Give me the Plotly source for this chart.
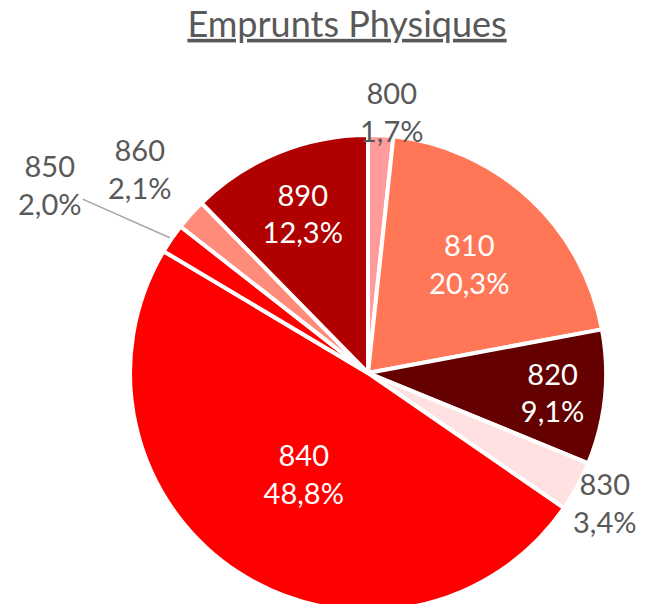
import math
import plotly.graph_objects as go

# Emprunts physiques par classe Dewey (%)
labels = ["800", "810", "820", "830", "840", "850", "860", "890"]
values = [1.7, 20.3, 9.1, 3.4, 48.8, 2.0, 2.1, 12.3]
colors = ["#FF9B9B", "#FF7756", "#640000", "#FFE1E1",
          "#FF0000", "#FF0000", "#FF8B7B", "#B00000"]
inside = [False, True, True, False, True, False, False, True]

W, H = 646, 604
# the page body adds an 8px margin, so the figure is laid out shifted by that
DOM_X = [0.1889, 0.9257]
DOM_Y = [0.0017, 0.7897]
LABEL_FONT = 29

fig = go.Figure(go.Pie(
    labels=labels,
    values=values,
    sort=False,
    direction="clockwise",
    rotation=0,
    marker=dict(colors=colors, line=dict(color="white", width=4)),
    textposition=["inside" if i else "none" for i in inside],
    texttemplate="%{label}<br>%{value:.1f}%",
    insidetextfont=dict(color="white", size=LABEL_FONT),
    insidetextorientation="horizontal",
    showlegend=False,
    hoverinfo="label+value",
    domain=dict(x=DOM_X, y=DOM_Y),
))

# outside labels for the small slices, placed along each slice's mid angle
cx = (DOM_X[0] + DOM_X[1]) / 2 * W
cy = H - (DOM_Y[0] + DOM_Y[1]) / 2 * H
r = min((DOM_X[1] - DOM_X[0]) * W, (DOM_Y[1] - DOM_Y[0]) * H) / 2
total = sum(values)
label_dist = {"800": 1.1, "830": 1.14, "860": 1.29}
label_xshift = {"800": 9, "830": -2, "860": 0}

cum = 0
for lab, v, ins in zip(labels, values, inside):
    theta = math.radians((cum + v / 2) / total * 360)
    cum += v
    if ins:
        continue
    text = f"{lab}<br>{v:.1f}%".replace(".", ",")
    if lab == "850":
        # leader line from the slice edge to the label
        px_, py_ = cx + r * math.sin(theta), cy - r * math.cos(theta)
        fig.add_annotation(
            x=px_ / W, y=1 - py_ / H, xref="paper", yref="paper",
            text=text, showarrow=True, arrowhead=0, arrowwidth=1.5,
            arrowcolor="#A6A6A6", ax=-122, ay=-54, standoff=2,
            font=dict(size=LABEL_FONT, color="#595959"),
        )
        continue
    k = label_dist[lab]
    px_, py_ = cx + k * r * math.sin(theta), cy - k * r * math.cos(theta)
    fig.add_annotation(
        x=px_ / W, y=1 - py_ / H, xref="paper", yref="paper",
        text=text, showarrow=False, xanchor="center", yanchor="middle",
        xshift=label_xshift[lab],
        font=dict(size=LABEL_FONT, color="#595959"),
    )

fig.update_layout(
    title=dict(text="<u>Emprunts Physiques</u>", x=0.5248, xanchor="center",
               y=0.994, yanchor="top",
               font=dict(size=36, color="#595959")),
    font=dict(family="Lato, Open Sans, sans-serif"),
    separators=",.",
    width=W,
    height=H,
    margin=dict(l=0, r=0, t=0, b=0),
    paper_bgcolor="white",
)

fig.write_html("out.html")
